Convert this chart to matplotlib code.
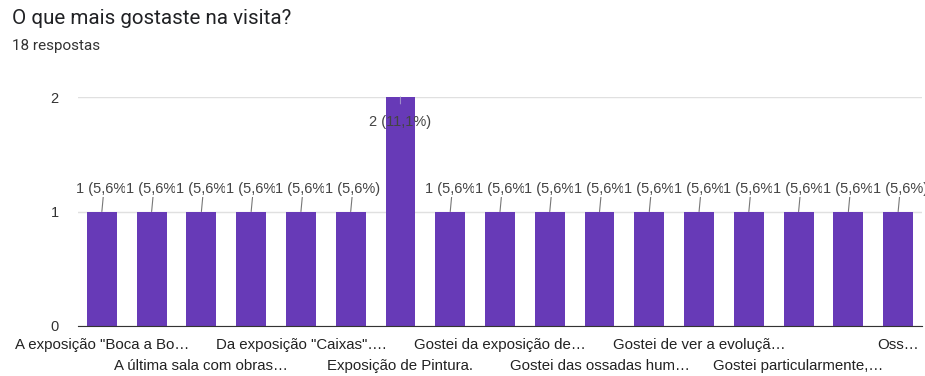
import matplotlib
matplotlib.use("Agg")
import matplotlib.pyplot as plt

# respostas por opção (18 respostas no total)
categorias = [
    'A exposição "Boca a Bo…', '', 'A última sala com obras…', '',
    'Da exposição "Caixas"….', '', 'Exposição de Pintura.', '',
    'Gostei da exposição de…', '', 'Gostei das ossadas hum…', '',
    'Gostei de ver a evoluçã…', '', 'Gostei particularmente,…', '',
    'Oss…',
]
contagens = [1, 1, 1, 1, 1, 1, 2, 1, 1, 1, 1, 1, 1, 1, 1, 1, 1]
total = 18

roxo = '#673ab7'
plt.rcParams['font.family'] = ['Liberation Sans', 'DejaVu Sans']

fig = plt.figure(figsize=(9.25, 3.76), dpi=100)
ax = fig.add_axes([0.0843, 0.133, 0.9125, 0.609])

x = list(range(len(contagens)))
ax.bar(x, contagens, width=0.6, color=roxo, zorder=2)

ax.set_xlim(-0.48, len(contagens) - 0.52)
ax.set_ylim(0, 2)
ax.set_yticks([0, 1, 2])
ax.tick_params(axis='y', length=0, pad=14, labelsize=10.5, labelcolor='#333333')
ax.grid(axis='y', color='#e0e0e0', lw=1, zorder=0)
for s in ['top', 'right', 'left']:
    ax.spines[s].set_visible(False)
ax.spines['bottom'].set_color('#333333')
ax.spines['bottom'].set_zorder(3)

# rótulos do eixo x em duas linhas alternadas (só onde há texto)
pos = [i for i, c in enumerate(categorias) if c]
ax.set_xticks(pos)
ax.set_xticklabels([categorias[i] for i in pos])
ax.tick_params(axis='x', length=0, pad=9, labelsize=10.8, labelcolor='#222222')
for k, tk in enumerate(ax.xaxis.get_major_ticks()):
    if k % 2 == 1:
        tk.set_pad(24)

maximo = max(contagens)
for i, v in enumerate(contagens):
    txt = '%d (%s%%)' % (v, ('%.1f' % (100.0 * v / total)).replace('.', ','))
    if v == maximo:
        ax.annotate(txt, xy=(i, v), xytext=(0, -18), textcoords='offset points',
                    ha='center', va='center', fontsize=10.5, color='#444444',
                    arrowprops=dict(arrowstyle='-', color='#9e8cc9', lw=0.8,
                                    shrinkA=6, shrinkB=0),
                    zorder=4, annotation_clip=False)
    else:
        a = ax.annotate(txt, xy=(i, v), xytext=(1.5, 16), textcoords='offset points',
                        ha='center', va='center', fontsize=10.5, color='#444444',
                        bbox=dict(fc='white', ec='none', pad=0.5),
                        arrowprops=dict(arrowstyle='-', color='#777777', lw=0.8,
                                        shrinkA=0, shrinkB=0),
                        zorder=4 + i * 0.01)
        a.set_clip_on(True)

fig.text(12 / 925, 1 - 18 / 376, 'O que mais gostaste na visita?', fontsize=14.8,
         color='#202124', va='center', ha='left', family=['Roboto', 'DejaVu Sans'])
fig.text(12 / 925, 1 - 46 / 376, '18 respostas', fontsize=11,
         color='#333333', va='center', ha='left', family=['Roboto', 'DejaVu Sans'])

fig.savefig('out.png', dpi=100, facecolor='white')
